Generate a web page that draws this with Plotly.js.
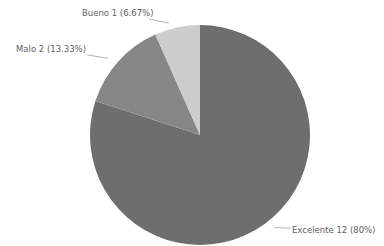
<!DOCTYPE html>
<html>
<head>
<meta charset="utf-8">
<script src="https://cdn.plot.ly/plotly-3.0.1.min.js"></script>
<style>html,body{margin:0;padding:0;background:#fff;}#chart{width:384px;height:246px;}</style>
</head>
<body>
<div id="chart"></div>
<script>
var categories = ["Excelente", "Malo", "Bueno"];
var counts = [12, 2, 1];
var percentLabels = ["80%", "13.33%", "6.67%"];
var sliceColors = ["#6e6e6e", "#878787", "#cdcdcd"];

var W = 384, H = 246;
var cx = 200, cy = 135.5, R = 110;
var offsets = [[67, 3], [-65, -11], [-59, -12]];

var total = counts.reduce(function(a, b){ return a + b; }, 0);
var annotations = [];
var cum = 0;
for (var i = 0; i < counts.length; i++) {
  var mid = (cum + counts[i] / 2) / total * 2 * Math.PI;
  cum += counts[i];
  var px = cx + R * 1.03 * Math.sin(mid);
  var py = cy - R * 1.03 * Math.cos(mid);
  annotations.push({
    xref: 'paper', yref: 'paper',
    x: px / W, y: 1 - py / H,
    ax: offsets[i][0], ay: offsets[i][1],
    text: categories[i] + ' ' + counts[i] + ' (' + percentLabels[i] + ')',
    showarrow: true, arrowhead: 0, arrowwidth: 0.8, arrowcolor: '#a0a0a0',
    standoff: 8,
    font: {family: 'DejaVu Sans', size: 8.5, color: '#606060'}
  });
}

var data = [{
  type: 'pie',
  labels: categories,
  values: counts,
  sort: false,
  direction: 'clockwise',
  rotation: 0,
  textinfo: 'none',
  hoverinfo: 'none',
  marker: {colors: sliceColors, line: {width: 0}},
  domain: {x: [90 / W, 310 / W], y: [1 / H, 1 - 25 / H]}
}];

var layout = {
  width: W, height: H,
  margin: {l: 0, r: 0, t: 0, b: 0},
  showlegend: false,
  paper_bgcolor: '#ffffff',
  annotations: annotations
};

Plotly.newPlot('chart', data, layout, {staticPlot: true, displayModeBar: false});
</script>
</body>
</html>
